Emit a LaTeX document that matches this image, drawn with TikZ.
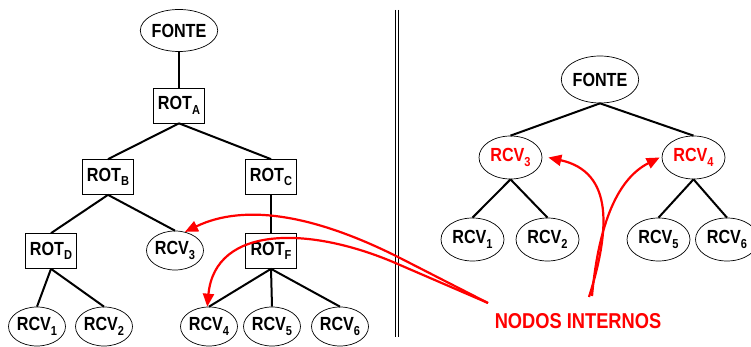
\documentclass[tikz,border=0pt]{standalone}
\usepackage{fontspec}
\setmainfont{Liberation Sans}[FakeStretch=0.85]
\usetikzlibrary{arrows.meta,shapes.geometric}
\newcommand{\idx}[1]{\raisebox{-4.5pt}{\fontsize{13}{13}\selectfont #1}}
\begin{document}
\begin{tikzpicture}[x=1pt,y=-1pt,
  txt/.style={font=\fontsize{19}{19}\selectfont\bfseries, inner sep=0pt},
  routerbox/.style={txt, draw, line width=0.7pt, rectangle, minimum width=51pt, minimum height=35pt},
  leafL/.style={txt, draw, line width=0.7pt, ellipse, minimum width=57pt, minimum height=39pt},
  leafR/.style={txt, draw, line width=0.7pt, ellipse, minimum width=63pt, minimum height=43pt},
  branch/.style={line width=2pt},
  pointer/.style={red, line width=2.2pt, -{Triangle[length=13pt,width=11pt]}},
]
\useasboundingbox (0,0) rectangle (751,347);

% ---- left tree: sources, routers and receivers
\node[txt, draw, line width=0.7pt, ellipse, minimum width=69pt, minimum height=42pt] (lf) at (179,30.5) {FONTE};
\node[routerbox] (ra) at (179,105.5) {ROT\idx{A}};
\node[routerbox] (rb) at (108,177) {ROT\idx{B}};
\node[routerbox] (rc) at (271,177) {ROT\idx{C}};
\node[routerbox] (rd) at (51,251) {ROT\idx{D}};
\node[leafL] (lr3) at (175,250.5) {RCV\idx{3}};
\node[routerbox] (rf) at (271,251) {ROT\idx{F}};
\node[leafL] (lr1) at (37,326.5) {RCV\idx{1}};
\node[leafL] (lr2) at (104,326.5) {RCV\idx{2}};
\node[leafL] (lr4) at (209,326.5) {RCV\idx{4}};
\node[leafL] (lr5) at (272,326.5) {RCV\idx{5}};
\node[leafL] (lr6) at (340,326.5) {RCV\idx{6}};

\draw[branch] (lf.south) -- (ra.north);
\draw[branch] (ra.south) -- (rb.north);
\draw[branch] (ra.south) -- (rc.north);
\draw[branch] (rb.south) -- (rd.north);
\draw[branch] (rb.south) -- (lr3.north);
\draw[branch] (rc.south) -- (rf.north);
\draw[branch] (rd.south) -- (lr1.north);
\draw[branch] (rd.south) -- (lr2.north);
\draw[branch] (rf.south) -- (lr4.north);
\draw[branch] (rf.south) -- (lr5.north);
\draw[branch] (rf.south) -- (lr6.north);

% ---- separator
\coordinate (sepTop) at (395,10);
\coordinate (sepBot) at (395,337);
\draw[line width=0.9pt] (sepTop) -- (sepBot);
\draw[line width=0.9pt] ([xshift=3.5pt]sepTop) -- ([xshift=3.5pt]sepBot);

% ---- right tree: overlay of receivers
\node[txt, draw, line width=0.7pt, ellipse, minimum width=77pt, minimum height=47pt] (rfo) at (600,79.5) {FONTE};
\node[leafR, text=red] (rr3) at (510.5,157.5) {RCV\idx{3}};
\node[leafR, text=red] (rr4) at (693.5,157.5) {RCV\idx{4}};
\node[leafR] (rr1) at (472.5,239.5) {RCV\idx{1}};
\node[leafR] (rr2) at (547.5,239.5) {RCV\idx{2}};
\node[leafR] (rr5) at (658.5,239.5) {RCV\idx{5}};
\node[leafR] (rr6) at (727,239.5) {RCV\idx{6}};

\draw[branch] (rfo.south) -- (rr3.north);
\draw[branch] (rfo.south) -- (rr4.north);
\draw[branch] (rr3.south) -- (rr1.north);
\draw[branch] (rr3.south) -- (rr2.north);
\draw[branch] (rr4.south) -- (rr5.north);
\draw[branch] (rr4.south) -- (rr6.north);

% ---- label and pointers
\node[font=\fontsize{21.5}{21.5}\selectfont\bfseries, text=red, inner sep=0pt] (lbl) at (578,321) {NODOS INTERNOS};
\coordinate (pL) at (488,303);
\coordinate (pR1) at (589,297);
\coordinate (pR2) at (592,296);

\draw[pointer] (pL) -- (400,258) .. controls (315,215) and (245,203) .. (lr3.62);
\draw[pointer] (pL) -- (400,265) .. controls (310,225) and (215,225) .. (lr4.95);
\draw[pointer] (pR1) .. controls (610,230) and (614,172) .. ([xshift=6pt]rr3.east);
\draw[pointer] (pR2) .. controls (598,230) and (615,180) .. ([xshift=-2pt]rr4.west);
\end{tikzpicture}
\end{document}
